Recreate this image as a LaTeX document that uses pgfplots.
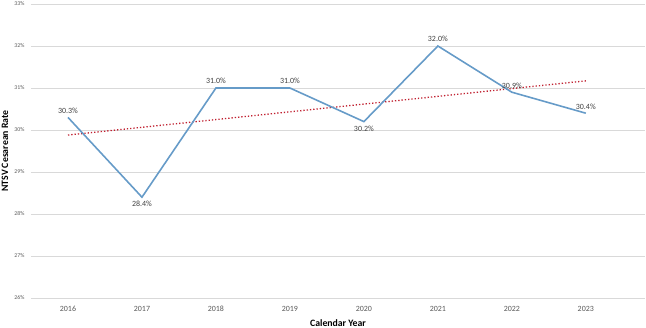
\documentclass[border=0pt]{standalone}
\usepackage{pgfplots}
\pgfplotsset{compat=1.18}
\usepackage{fontspec}
\setmainfont{Carlito}

\definecolor{seriesblue}{RGB}{102,155,200}
\definecolor{trendred}{RGB}{192,32,48}
\definecolor{gridgray}{RGB}{217,217,217}
\definecolor{ticktext}{RGB}{89,89,89}
\definecolor{labeltext}{RGB}{64,64,64}

\begin{document}
\begin{tikzpicture}
\useasboundingbox (0,0) rectangle (646bp,328bp);
\begin{axis}[
  at={(31bp,30bp)}, anchor=south west,
  scale only axis,
  width=614bp, height=294bp,
  xmin=-0.5, xmax=7.8,
  ymin=26, ymax=33,
  ytick={26,27,...,33},
  yticklabel={\pgfmathprintnumber{\tick}\%},
  /pgf/number format/assume math mode=true,
  xtick={0,...,7},
  xticklabels={2016,2017,2018,2019,2020,2021,2022,2023},
  axis line style={draw=none},
  major tick length=0pt,
  ymajorgrids,
  grid style={gridgray, line width=0.8pt},
  yticklabel style={font=\fontsize{5.8}{6}\selectfont, text=ticktext, xshift=-3bp},
  xticklabel style={font=\fontsize{8}{9}\selectfont, text=ticktext, yshift=-5bp},
  xlabel={\textbf{Calendar Year}},
  ylabel={\textbf{NTSV Cesarean Rate}},
  label style={font=\fontsize{9.8}{10}\selectfont, text=black},
  xlabel style={at={(axis description cs:0.5,0)}, anchor=center, yshift=-25bp},
  ylabel style={at={(axis description cs:0,0.5)}, anchor=center, yshift=26bp},
  clip=false,
  nodes near coords style={font=\fontsize{8}{9}\selectfont, text=labeltext},
]
% linear trend of the annual rates
\addplot[trendred, line width=1.3pt, dotted] coordinates {(0,29.88) (7,31.17)};

% annual NTSV cesarean rate
\addplot[seriesblue, line width=1.6pt, mark=none,
  nodes near coords={\pgfmathprintnumber[fixed,fixed zerofill,precision=1]{\pgfplotspointmeta}\%},
  point meta=explicit,
  visualization depends on={value \thisrow{pos} \as \lblpos},
  every node near coord/.append style={anchor=\lblpos, yshift=0bp},
] table[meta=y] {
x y pos
0 30.3 south
1 28.4 north
2 31.0 south
3 31.0 south
4 30.2 north
5 32.0 south
6 30.9 south
7 30.4 south
};
\end{axis}
\end{tikzpicture}
\end{document}
